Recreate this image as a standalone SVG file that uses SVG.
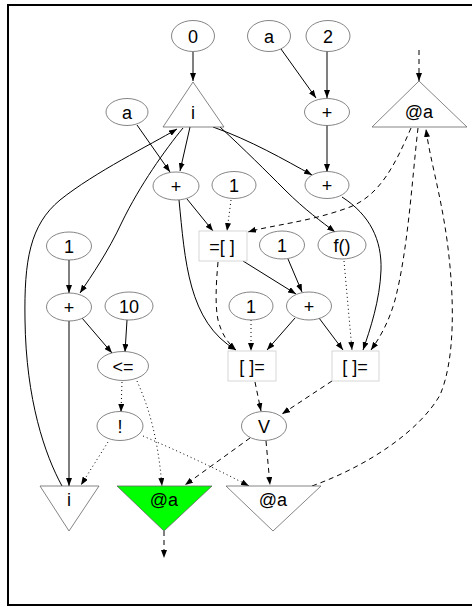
<svg xmlns="http://www.w3.org/2000/svg" width="472" height="607" viewBox="0 0 472 607">
<style>
.n ellipse{fill:#fff;stroke:#666;stroke-width:0.8}
.n polygon{fill:#fff;stroke:#666;stroke-width:0.8}
.n rect{fill:#fff;stroke:#ccc;stroke-width:0.8}
text{font-family:"Liberation Sans",Arial,sans-serif;font-size:18px;fill:#000;text-anchor:middle}
.e path{fill:none;stroke:#000;stroke-width:1}
.e .da{stroke-dasharray:5,4}
.e .do{stroke-dasharray:1,3}
</style>
<defs>
<marker id="ah" markerWidth="8" markerHeight="6" refX="8" refY="3" orient="auto" markerUnits="userSpaceOnUse">
<path d="M0,0 L8,3 L0,6 z" fill="#000"/>
</marker>
</defs>
<rect x="8" y="5" width="470" height="600" fill="#fff" stroke="#000" stroke-width="2"/>
<g class="e" id="edges">
<path d="M193,52 L193,81" marker-end="url(#ah)"/>
<path d="M137,125 L170,172" marker-end="url(#ah)"/>
<path d="M190,127 L180,171" marker-end="url(#ah)"/>
<path d="M213,127 C250,140 285,160 312,175" marker-end="url(#ah)"/>
<path d="M220,127 C245,150 265,170 285,190 C305,210 322,222 335,232" marker-end="url(#ah)"/>
<path d="M183,128 C165,150 140,185 122,222 C108,252 92,275 80,293" marker-end="url(#ah)"/>
<path d="M62,486 C45,455 26,400 25,320 C24,260 30,225 60,200 C95,172 150,145 177,129" marker-end="url(#ah)"/>
<path d="M187,199 L213,231" marker-end="url(#ah)"/>
<path d="M179,200 C185,260 188,322 236,350" marker-end="url(#ah)"/>
<path d="M243,261 L296,294" marker-end="url(#ah)"/>
<path d="M288,259 L302,292" marker-end="url(#ah)"/>
<path d="M295,318 L267,350" marker-end="url(#ah)"/>
<path d="M319,318 L343,350" marker-end="url(#ah)"/>
<path d="M342,197 C370,215 382,240 381,270 C380,300 370,330 363,350" marker-end="url(#ah)"/>
<path d="M327,125 L327,172" marker-end="url(#ah)"/>
<path d="M281,49 L316,98" marker-end="url(#ah)"/>
<path d="M327,51 L327,98" marker-end="url(#ah)"/>
<path d="M69,260 L69,293" marker-end="url(#ah)"/>
<path d="M82,318 L112,353" marker-end="url(#ah)"/>
<path d="M127,320 L125,352" marker-end="url(#ah)"/>
<path d="M69,321 L69,486" marker-end="url(#ah)"/>
<path class="do" d="M231,200 L227,231" marker-end="url(#ah)"/>
<path class="do" d="M251,320 L251,351" marker-end="url(#ah)"/>
<path class="do" d="M344,261 L352,350" marker-end="url(#ah)"/>
<path class="do" d="M122,382 L121,412" marker-end="url(#ah)"/>
<path class="do" d="M137,381 C150,410 158,440 162,486" marker-end="url(#ah)"/>
<path class="do" d="M108,442 L81,485" marker-end="url(#ah)"/>
<path class="do" d="M143,436 C180,452 215,468 249,486" marker-end="url(#ah)"/>
<path class="da" d="M419,50 L419,81" marker-end="url(#ah)"/>
<path class="da" d="M411,128 C395,165 380,195 350,207 C310,222 272,225 248,232" marker-end="url(#ah)"/>
<path class="da" d="M218,262 C216,285 215,305 218,320 C222,335 228,343 236,350" marker-end="url(#ah)"/>
<path class="da" d="M418,128 C412,180 408,250 395,300 C388,325 378,340 371,350" marker-end="url(#ah)"/>
<path class="da" d="M312,486 C370,465 420,430 440,395 C455,360 455,300 447,240 C440,190 430,160 426,129" marker-end="url(#ah)"/>
<path class="da" d="M255,382 L261,411" marker-end="url(#ah)"/>
<path class="da" d="M332,381 L282,414" marker-end="url(#ah)"/>
<path class="da" d="M250,438 L185,485" marker-end="url(#ah)"/>
<path class="da" d="M266,441 L270,485" marker-end="url(#ah)"/>
<path class="da" d="M164,531 L164,558" marker-end="url(#ah)"/>
</g>
<g class="n" id="n0"><ellipse cx="193" cy="36" rx="21.5" ry="15.5"/><text x="193" y="42.5">0</text></g>
<g class="n" id="ni"><polygon points="193,82 224,127 163,127"/><text x="193" y="119">i</text></g>
<g class="n" id="na1"><ellipse cx="127" cy="112" rx="21" ry="13.5"/><text x="127" y="118.5">a</text></g>
<g class="n" id="na2"><ellipse cx="269" cy="36" rx="21.5" ry="15.5"/><text x="269" y="42.5">a</text></g>
<g class="n" id="n2"><ellipse cx="328" cy="36" rx="22" ry="15.5"/><text x="328" y="42.5">2</text></g>
<g class="n" id="np1"><ellipse cx="327" cy="112" rx="22.5" ry="13.5"/><text x="327" y="118.5">+</text></g>
<g class="n" id="nat"><polygon points="419,81 467,127 372,127"/><text x="419" y="118">@a</text></g>
<g class="n" id="np2"><ellipse cx="176" cy="186" rx="23" ry="14"/><text x="176" y="192.5">+</text></g>
<g class="n" id="n1a"><ellipse cx="234" cy="185" rx="22" ry="13.5"/><text x="234" y="191.5">1</text></g>
<g class="n" id="np3"><ellipse cx="327" cy="185" rx="22" ry="13.5"/><text x="327" y="191.5">+</text></g>
<g class="n" id="nidx"><rect x="199" y="231" width="48" height="30"/><text x="222" y="252.5">=[ ]</text></g>
<g class="n" id="n1b"><ellipse cx="282" cy="245" rx="22.5" ry="14"/><text x="282" y="251.5">1</text></g>
<g class="n" id="nf"><ellipse cx="342" cy="245" rx="24" ry="14"/><text x="342" y="251.5">f()</text></g>
<g class="n" id="n1c"><ellipse cx="69" cy="246" rx="22.5" ry="14"/><text x="69" y="252.5">1</text></g>
<g class="n" id="np4"><ellipse cx="69" cy="307" rx="22.5" ry="14"/><text x="69" y="313.5">+</text></g>
<g class="n" id="n10"><ellipse cx="129" cy="306" rx="24" ry="14"/><text x="129" y="312.5">10</text></g>
<g class="n" id="n1d"><ellipse cx="251" cy="306" rx="22" ry="14"/><text x="251" y="312.5">1</text></g>
<g class="n" id="np5"><ellipse cx="309" cy="306" rx="22.5" ry="14"/><text x="309" y="312.5">+</text></g>
<g class="n" id="nle"><ellipse cx="123" cy="366" rx="25.5" ry="14.5"/><text x="123" y="372.5">&lt;=</text></g>
<g class="n" id="nst1"><rect x="228" y="351" width="48" height="30"/><text x="252" y="372.5">[ ]=</text></g>
<g class="n" id="nst2"><rect x="332" y="351" width="47" height="30"/><text x="355" y="372.5">[ ]=</text></g>
<g class="n" id="nnot"><ellipse cx="120" cy="426" rx="23" ry="14.5"/><text x="120" y="432.5">!</text></g>
<g class="n" id="nv"><ellipse cx="264" cy="426" rx="22.5" ry="14.5"/><text x="264" y="432.5">V</text></g>
<g class="n" id="nio"><polygon points="40,486 99,486 69,531"/><text x="69" y="506">i</text></g>
<g class="n" id="nag"><polygon points="117,486 212,486 164,531" style="fill:#00ff00"/><text x="164" y="506">@a</text></g>
<g class="n" id="naw"><polygon points="226,486 321,486 273,531"/><text x="273" y="506">@a</text></g>
</svg>
